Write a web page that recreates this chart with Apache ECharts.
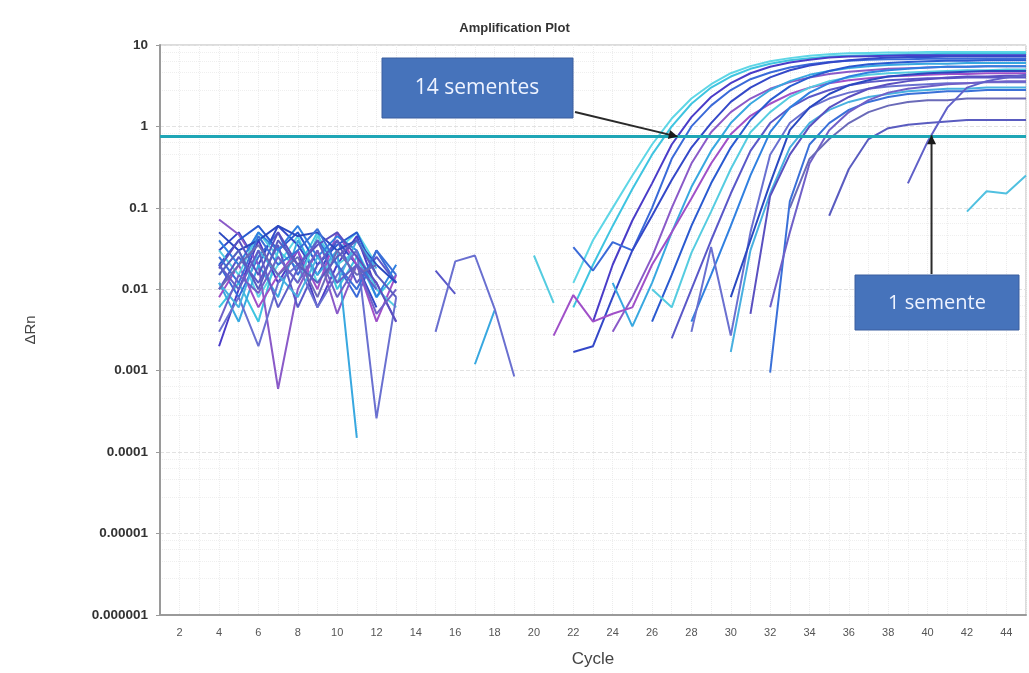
<!DOCTYPE html>
<html><head><meta charset="utf-8">
<script src="https://cdn.jsdelivr.net/npm/echarts@6/dist/echarts.min.js"></script>
<style>html,body{margin:0;padding:0;background:#fff}#c{width:1029px;height:673px}</style>
</head><body><div id="c"></div>
<script>
const n = null;
// cycles 4..45
const cycles = [4,5,6,7,8,9,10,11,12,13, 14,15,16,17,18,19,20,21,22, 23,24,25,26,27,28,29,30,31,32, 33,34,35,36,37,38,39,40,41,42,43,44,45];
const yTickLabels = ['0.000001','0.00001','0.0001','0.001','0.01','0.1','1','10'];
const threshold = 0.75;
const labelMany = '14 sementes';
const labelOne = '1 semente';
const arrowManyAt = [27.3, 0.75];
const arrowOneAt = [40.2, 0.78];

const w01 = [.015,.03,.008,.02,.045,.012,.03,.05,.02,n, n,n,n,n,n,n,n,n,.012, .04,.1,.25,.6,1.25,2.2,3.3,4.5,5.5,6.3, 6.9,7.4,7.7,7.9,8.0,8.1,8.1,8.2,8.2,8.2,8.2,8.2,8.2];
const w02 = [.006,.012,.004,.03,.018,.05,.01,.025,.008,.015, n,n,n,n,n,n,n,n,.006, .02,.06,.17,.45,1.0,1.9,3.0,4.1,5.1,5.9, 6.5,6.9,7.2,7.4,7.5,7.6,7.7,7.7,7.8,7.8,7.8,7.8,7.8];
const w03 = [.002,.01,.04,.012,.03,.006,.02,.045,.01,n, n,n,n,n,n,n,n,n,n, .004,.02,.07,.2,.6,1.3,2.3,3.4,4.5,5.4, 6.1,6.6,7.0,7.2,7.3,7.4,7.5,7.5,7.5,7.5,7.5,7.5,7.5];
const w04 = [.02,.008,.025,.05,.015,.04,.02,.008,.03,.012, n,n,n,n,n,n,n,n,.033, .017,.038,.03,.1,.4,1.0,1.8,2.8,3.8,4.6, 5.3,5.8,6.2,6.4,6.6,6.7,6.7,6.8,6.8,6.8,6.8,6.8,6.8];
const w05 = [.03,.05,.02,.06,.035,.015,.04,.02,.006,n, n,n,n,n,n,n,n,n,.0017, .002,.008,.03,.08,.22,.55,1.1,2.0,3.0,4.0, 4.9,5.6,6.1,6.5,6.8,7.0,7.1,7.1,7.2,7.2,7.2,7.2,7.2];
const w06 = [.072,.047,.02,.0006,.01,.03,.005,.02,.012,.004, n,n,n,n,n,n,n,n,n, n,.003,.008,.025,.1,.35,.85,1.5,2.2,2.9, 3.5,4.0,4.4,4.7,4.9,5.1,5.2,5.3,5.4,5.4,5.5,5.5,5.5];
const w07 = [.012,.004,.02,.008,.04,.015,.03,.00015,n,n, n,n,n,.0012,.0055,n,n,n,n, n,.012,.0035,.012,.05,.18,.5,1.1,1.9,2.8, 3.6,4.3,4.8,5.2,5.5,5.7,5.8,5.9,5.9,6.0,6.0,6.0,6.0];
const w08 = [.008,.02,.006,.015,.03,.01,.05,.02,.004,.015, n,n,n,n,n,n,n,.0027,.0085, .004,.005,.006,.02,.05,.13,.35,.8,1.35,1.9, 2.5,3.0,3.4,3.7,3.9,4.1,4.2,4.3,4.4,4.4,4.5,4.5,4.5];
const w09 = [.02,.04,.06,.03,.05,.02,.035,.05,.015,n, n,n,n,n,n,n,n,n,n, n,n,n,.004,.015,.06,.2,.55,1.2,2.1, 3.1,4.0,4.8,5.4,5.8,6.0,6.2,6.3,6.4,6.4,6.5,6.5,6.5];
const w10 = [.03,.015,.05,.025,.012,.045,.02,.03,.01,.006, n,n,n,n,n,n,.026,.0068,n, n,n,n,.01,.006,.028,.09,.3,.85,1.5, 2.3,3.0,3.6,4.0,4.3,4.5,4.6,4.7,4.8,4.9,4.9,5.0,5.0];
const w11 = [.01,.025,.012,.035,.006,.02,.04,.012,.025,.012, n,.017,.0088,n,n,n,n,n,n, n,n,n,n,.0025,.01,.04,.15,.5,1.1, 1.7,2.3,2.8,3.2,3.5,3.7,3.8,3.9,3.9,4.0,4.0,4.0,4.0];
const w12 = [.04,.02,.05,.03,.06,.025,.045,.03,.008,.02, n,n,n,n,n,n,n,n,n, n,n,n,n,n,.004,.015,.06,.25,.85, 1.7,2.6,3.4,4.1,4.6,4.9,5.1,5.3,5.4,5.4,5.5,5.5,5.5];
const w13 = [.003,.008,.002,.012,.02,.006,.015,.03,.00026,.008, n,.003,.022,.026,.0058,.00085,n,n,n, n,n,n,n,n,.003,.033,.0027,.05,.45, 1.1,1.7,2.2,2.6,2.9,3.1,3.2,3.3,3.4,3.4,3.5,3.5,3.5];
const w14 = [.05,.03,.04,.06,.045,.05,.03,.04,.02,.012, n,n,n,n,n,n,n,n,n, n,n,n,n,n,n,n,.008,.04,.2, .9,1.7,2.5,3.2,3.7,4.1,4.3,4.5,4.6,4.7,4.8,4.8,4.8];
const w15 = [.012,.006,.03,.015,.008,.025,.012,.04,.018,n, n,n,n,n,n,n,n,n,n, n,n,n,n,n,n,n,.0017,.03,.15, .55,1.1,1.6,2.0,2.3,2.5,2.7,2.8,2.9,2.9,3.0,3.0,3.0];
const w16 = [.018,.04,.015,.05,.02,.035,.05,.025,.012,.004, n,n,n,n,n,n,n,n,n, n,n,n,n,n,n,n,n,.005,.14, .45,1.0,1.7,2.3,2.9,3.3,3.6,3.8,4.0,4.1,4.1,4.2,4.2];
const w17 = [.025,.012,.045,.02,.03,.055,.02,.01,.03,.015, n,n,n,n,n,n,n,n,n, n,n,n,n,n,n,n,n,n,.00095, .12,.6,1.1,1.6,2.0,2.3,2.5,2.6,2.7,2.7,2.8,2.8,2.8];
const w18 = [.004,.015,.009,.025,.012,.03,.008,.02,.005,.01, n,n,n,n,n,n,n,n,n, n,n,n,n,n,n,n,n,n,.006, .05,.35,.9,1.5,2.1,2.6,2.9,3.1,3.3,3.4,3.5,3.6,3.6];
const w19 = [.01,.02,.035,.015,.025,.008,.03,.015,.02,n, n,n,n,n,n,n,n,n,n, n,n,n,n,n,n,n,n,n,n, .1,.4,.7,1.1,1.5,1.8,2.0,2.1,2.1,2.2,2.2,2.2,2.2];
const w20 = [.015,.03,.01,.04,.02,.012,.025,.04,.015,.008, n,n,n,n,n,n,n,n,n, n,n,n,n,n,n,n,n,n,n, n,n,.08,.3,.7,.95,1.05,1.1,1.15,1.2,1.2,1.2,1.2];
const w21 = [.02,.01,.03,.006,.018,.04,.012,.02,.01,n, n,n,n,n,n,n,n,n,n, n,n,n,n,n,n,n,n,n,n, n,n,n,n,n,n,.2,.65,1.7,3.0,3.6,4.0,4.3];
const w22 = [n,n,n,n,n,n,n,n,n,n, n,n,n,n,n,n,n,n,n, n,n,n,n,n,n,n,n,n,n, n,n,n,n,n,n,n,n,n,.09,.16,.15,.25];

const wells = [w01,w02,w03,w04,w05,w06,w07,w08,w09,w10,w11,w12,w13,w14,w15,w16,w17,w18,w19,w20,w21,w22];
const colors = ['#5ed6e6','#3ec4e0','#4a3cc8','#3a6ad8','#3448c8','#8a5ac8','#38a8e0','#a050c8','#2a5ad0','#55cce0','#5a58c8','#3080e0','#6a70d0','#2a48c0','#48b0e0','#5a50c0','#3a70d8','#7060c8','#6a6ab8','#5a5cc0','#6060c8','#50c0e0'];

const chart = echarts.init(document.getElementById('c'), null, {renderer:'canvas'});
const series = wells.map((w, k) => ({
  type: 'line', showSymbol: false, symbol: 'none', silent: true, animation: false,
  data: w.map((v, i) => [cycles[i], v == null ? '-' : v]),
  lineStyle: { color: colors[k], width: 2 },
  itemStyle: { color: colors[k] },
  z: 3
}));
series.push({
  type: 'line', data: [], silent: true, animation: false,
  markLine: { symbol: 'none', silent: true, animation: false, label: { show: false },
    lineStyle: { color: '#1fa6b6', width: 3, type: 'solid' },
    data: [{ yAxis: threshold }] },
  z: 5
});

chart.setOption({
  animation: false,
  title: { text: 'Amplification Plot', left: 'center', top: 17,
    textStyle: { fontFamily: 'Liberation Sans, Arial', fontSize: 13, fontWeight: 'bold', color: '#333' } },
  grid: { left: 160, right: -6, top: 45, bottom: 56, show: true, borderColor: '#b8b8b8', borderWidth: 1 },
  xAxis: {
    type: 'value', min: 1, max: 45, interval: 1,
    name: 'Cycle', nameLocation: 'middle', nameGap: 36,
    nameTextStyle: { fontFamily: 'Liberation Sans, Arial', fontSize: 17, color: '#444' },
    axisLine: { lineStyle: { color: '#9a9a9a', width: 2 } },
    axisTick: { show: false },
    axisLabel: { margin: 12, fontFamily: 'Liberation Sans, Arial', fontSize: 11, color: '#555',
      formatter: v => (v % 2 === 0 ? String(v) : '') },
    splitLine: { show: true, lineStyle: { color: '#ececec', width: 1, type: 'dotted' } }
  },
  yAxis: {
    type: 'log', logBase: 10, min: 1e-6, max: 10,
    name: 'ΔRn', nameLocation: 'middle', nameGap: 122, nameRotate: 90,
    nameTextStyle: { fontFamily: 'Liberation Sans, Arial', fontSize: 15, color: '#444' },
    axisLine: { show: true, lineStyle: { color: '#9a9a9a', width: 2 } },
    axisTick: { show: true, length: 4, lineStyle: { color: '#9a9a9a' } },
    axisLabel: { margin: 12, fontFamily: 'Liberation Sans, Arial', fontSize: 13.5, fontWeight: 'bold', color: '#333',
      formatter: v => yTickLabels[Math.round(Math.log10(v)) + 6] || '' },
    splitLine: { show: true, lineStyle: { color: '#e2e2e2', width: 1, type: 'dashed' } },
    minorTick: { show: false, splitNumber: 5 },
    minorSplitLine: { show: true, lineStyle: { color: '#efefef', width: 1, type: 'dotted' } }
  },
  series: series
});

// annotations
const tip1 = chart.convertToPixel({ gridIndex: 0 }, arrowManyAt);
const tip2 = chart.convertToPixel({ gridIndex: 0 }, arrowOneAt);
function arrowHead(from, to, size) {
  const ang = Math.atan2(to[1] - from[1], to[0] - from[0]);
  const a1 = ang + Math.PI * 0.85, a2 = ang - Math.PI * 0.85;
  return [to, [to[0] + size * Math.cos(a1), to[1] + size * Math.sin(a1)], [to[0] + size * Math.cos(a2), to[1] + size * Math.sin(a2)]];
}
const from1 = [575, 112];
const from2 = [tip2[0], 274];
chart.setOption({
  graphic: [
    { type: 'line', shape: { x1: from1[0], y1: from1[1], x2: tip1[0], y2: tip1[1] }, style: { stroke: '#2a2a2a', lineWidth: 2 }, z: 100 },
    { type: 'polygon', shape: { points: arrowHead(from1, tip1, 10) }, style: { fill: '#1a1a1a' }, z: 100 },
    { type: 'line', shape: { x1: from2[0], y1: from2[1], x2: tip2[0], y2: tip2[1] }, style: { stroke: '#2a2a2a', lineWidth: 2 }, z: 100 },
    { type: 'polygon', shape: { points: arrowHead(from2, tip2, 10) }, style: { fill: '#1a1a1a' }, z: 100 },
    { type: 'rect', shape: { x: 382, y: 58, width: 191, height: 60 }, style: { fill: '#4673bb', stroke: '#3a5f9f', lineWidth: 1 }, z: 101 },
    { type: 'text', x: 477, y: 88, style: { text: labelMany, fill: '#eef3ff', font: '21px "Open Sans", sans-serif', align: 'center', verticalAlign: 'middle' }, z: 102 },
    { type: 'rect', shape: { x: 855, y: 275, width: 164, height: 55 }, style: { fill: '#4673bb', stroke: '#3a5f9f', lineWidth: 1 }, z: 101 },
    { type: 'text', x: 937, y: 303, style: { text: labelOne, fill: '#eef3ff', font: '20px "Open Sans", sans-serif', align: 'center', verticalAlign: 'middle' }, z: 102 }
  ]
});
</script>
</body></html>
